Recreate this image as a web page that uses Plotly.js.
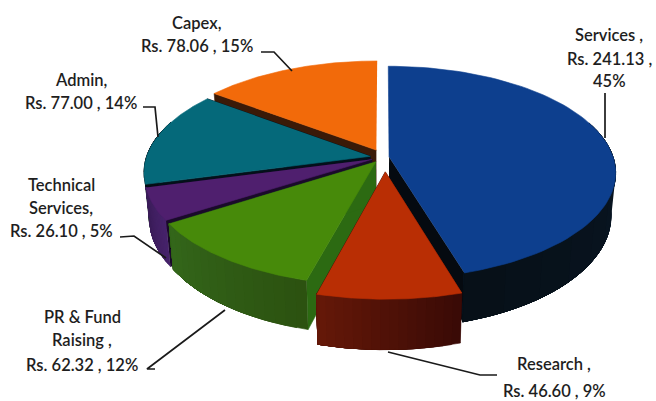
<!DOCTYPE html>
<html>
<head>
<meta charset="utf-8">
<script src="https://cdn.plot.ly/plotly-3.0.1.min.js"></script>
<style>html,body{margin:0;padding:0;background:#fff}#chart{width:656px;height:401px}</style>
</head>
<body>
<div id="chart"></div>
<script>
// Budget split, clockwise from twelve o'clock
var categories = ['Services', 'Research', 'PR & Fund Raising', 'Technical Services', 'Admin', 'Capex'];
var amounts = [241.13, 46.60, 62.32, 26.10, 77.00, 78.06];
var percents = [45, 9, 12, 5, 14, 15];

// Label wording, one entry per printed line
var nameLines = [['Services ,'], ['Research ,'], ['PR & Fund', 'Raising ,'], ['Technical', 'Services,'], ['Admin,'], ['Capex,']];

// Slice styling
var topColors = ['#0d3f8e', '#b92e04', '#478a0a', '#4f1f6e', '#05697a', '#f26a0a'];
var wallStart = ['#0a1c30', '#3a0a06', '#2c5210', '#46226a', '#050d14', '#3a1a08'];
var wallEnd = ['#071018', '#641808', '#33661a', '#3a1c58', '#050d14', '#3a1a08'];
var edgeWalls = ['#050a10', '#3a0a06', '#2c6a12', '#1a0a2a', '#04101a', '#3a1a08'];

// Slice pull-out in disc units
var pullU = [0.027, 0.010, -0.032, -0.048, -0.056, -0.030];
var pullV = [0.000, 0.140, 0.045, 0.022, -0.007, -0.067];

// Disc projection
var cx = 383, cy = 157, rx = 224, ry = 104, tilt = 0.146, depth = 42;

function project(u, v, lower) {
  var s = 1 / (1 - tilt * v);
  return [cx + rx * u * s * (lower ? 0.98 : 1), cy + ry * v * s + (lower ? depth * s : 0)];
}

function mixColor(a, b, t) {
  var out = '#';
  for (var i = 1; i < 7; i += 2) {
    var p = parseInt(a.substr(i, 2), 16), q = parseInt(b.substr(i, 2), 16);
    var c = Math.round(p + (q - p) * t).toString(16);
    out += c.length < 2 ? '0' + c : c;
  }
  return out;
}

function polygon(points, color) {
  return {
    type: 'scatter', mode: 'lines', fill: 'toself', fillcolor: color,
    x: points.map(function (p) { return p[0]; }),
    y: points.map(function (p) { return p[1]; }),
    line: {color: color, width: 0.6}, hoverinfo: 'skip', showlegend: false
  };
}

var total = amounts.reduce(function (a, b) { return a + b; }, 0);
var spans = [], running = 0;
amounts.forEach(function (v) {
  var start = running / total * 2 * Math.PI;
  running += v;
  spans.push([start, running / total * 2 * Math.PI]);
});

function rim(i, a) {
  return [pullU[i] + Math.sin(a), pullV[i] - Math.cos(a)];
}

// Outer wall band between two angles; the far rim is hidden by the top face, so it is left out
function wallBand(i, b0, b1, color) {
  var upper = [], lower = [], k, a, r, steps = 24;
  for (k = 0; k <= steps; k++) {
    a = b0 + (b1 - b0) * k / steps;
    if (Math.cos(a) > 0.35) continue;
    r = rim(i, a);
    upper.push(project(r[0], r[1], false));
    lower.unshift(project(r[0], r[1], true));
  }
  return upper.length < 2 ? null : polygon(upper.concat(lower), color);
}

function sliceTraces(i) {
  var a0 = spans[i][0], a1 = spans[i][1], traces = [];
  var hub = [pullU[i], pullV[i]];
  [a0, a1].forEach(function (a) {
    if (Math.abs(Math.sin(a)) < 0.01) return; // edge-on, nothing to see
    var r = rim(i, a);
    traces.push(polygon([
      project(hub[0], hub[1], false), project(r[0], r[1], false),
      project(r[0], r[1], true), project(hub[0], hub[1], true)
    ], edgeWalls[i]));
  });
  // Shade the wall by laying ever shorter bands over a full one
  var segments = 16;
  for (var s = 0; s < segments; s++) {
    var band = wallBand(i, a0 + (a1 - a0) * s / segments, a1, mixColor(wallStart[i], wallEnd[i], s / (segments - 1)));
    if (band) traces.push(band);
  }
  var topFace = [project(hub[0], hub[1], false)];
  for (var n = 0; n <= 80; n++) {
    var q = rim(i, a0 + (a1 - a0) * n / 80);
    topFace.push(project(q[0], q[1], false));
  }
  traces.push(polygon(topFace, topColors[i]));
  return traces;
}

// Painter's order, rear slices first
var drawOrder = [5, 0, 4, 3, 2, 1];
var traces = [];
drawOrder.forEach(function (i) { traces = traces.concat(sliceTraces(i)); });

// Leader lines from labels to slices
var leaderX = [[605, 605], [497, 480, 388], [155, 147, 225], [120, 134, 166], [143, 155, 158], [261, 274, 292]];
var leaderY = [[93, 138], [375, 375, 352], [369, 369, 310], [237, 236, 258], [107, 107, 137], [52, 52, 71]];
leaderX.forEach(function (xs, i) {
  traces.push({type: 'scatter', mode: 'lines', x: xs, y: leaderY[i],
    line: {color: '#1a1a1a', width: 1.7}, hoverinfo: 'skip', showlegend: false});
});

// Label anchors: centre x and centre y of each printed line
var labelX = [609, 554, 82, 61, 81, 197];
var labelY = [[35, 59, 81], [364, 391], [317, 340, 365], [185, 208, 231], [80, 103], [23, 46]];

var annotations = [];
categories.forEach(function (name, i) {
  var amount = 'Rs. ' + amounts[i].toFixed(2) + ' , ';
  var lines = nameLines[i].slice();
  if (i === 0) { lines.push(amount.trim()); lines.push(percents[i] + '%'); }
  else { lines.push(amount + percents[i] + '%'); }
  lines.forEach(function (t, j) {
    annotations.push({x: labelX[i], y: labelY[i][j], text: t, showarrow: false,
      xanchor: 'center', yanchor: 'middle',
      font: {family: 'Lato, sans-serif', size: 16.5, color: '#1e1e1e', weight: 600}});
  });
});

Plotly.newPlot('chart', traces, {
  width: 656, height: 401,
  margin: {l: 0, r: 0, t: 0, b: 0},
  paper_bgcolor: '#ffffff', plot_bgcolor: '#ffffff',
  showlegend: false,
  xaxis: {range: [0, 656], visible: false, fixedrange: true},
  yaxis: {range: [401, 0], visible: false, fixedrange: true},
  annotations: annotations
}, {staticPlot: true});
</script>
</body>
</html>
